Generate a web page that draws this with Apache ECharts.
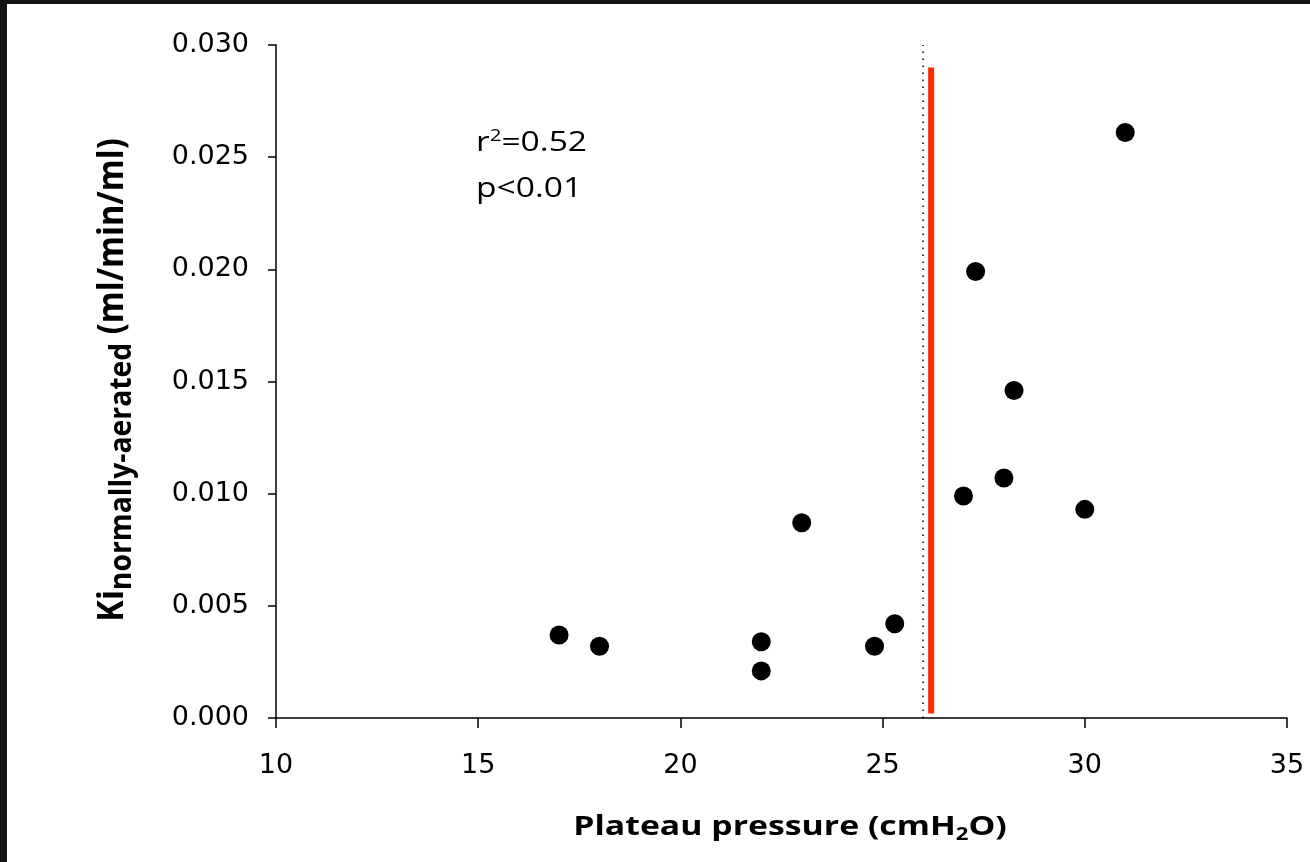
<!DOCTYPE html>
<html>
<head>
<meta charset="utf-8">
<script src="https://cdn.jsdelivr.net/npm/echarts@6/dist/echarts.min.js"></script>
<style>
  html, body { margin: 0; padding: 0; background: #ffffff; }
  #chart { width: 1310px; height: 862px; }
</style>
</head>
<body>
<div id="chart"></div>
<script>
// Plateau pressure (cmH2O) per subject
const plateauPressure = [17.0, 18.0, 22.0, 22.0, 23.0, 24.8, 25.3, 27.0, 27.3, 28.0, 28.25, 30.0, 31.0];
// Ki of the normally-aerated lung (ml/min/ml)
const kiNormallyAerated = [0.0037, 0.0032, 0.0034, 0.0021, 0.0087, 0.0032, 0.0042, 0.0099, 0.0199, 0.0107, 0.0146, 0.0093, 0.0261];

// Vertical reference lines: dotted threshold and red cut-off bar
const thresholdX = [26.0, 26.0];
const thresholdY = [0.0, 0.030];
const cutoffX = [26.2, 26.2];
const cutoffY = [0.0002, 0.029];

// Axis ranges and tick spacing
const xRange = [10, 35, 5];
const yRange = [0, 0.030, 0.005];

const statsText = ['r{sup|2}=0.52', 'p<0.01'];

const chart = echarts.init(document.getElementById('chart'), null, { renderer: 'canvas' });

const pairs = (xs, ys) => xs.map((x, i) => [x, ys[i]]);

const tickFont = 'DejaVu Sans';
const titleFont = '"Open Sans", "Noto Sans", sans-serif';

chart.setOption({
  backgroundColor: '#ffffff',
  animation: false,
  grid: { left: 276, right: 23, top: 45, bottom: 144, containLabel: false },
  xAxis: {
    type: 'value',
    min: xRange[0], max: xRange[1], interval: xRange[2],
    axisLine: { show: true, lineStyle: { color: '#000', width: 1.5 } },
    axisTick: { show: true, length: 10, lineStyle: { color: '#000', width: 1.5 } },
    splitLine: { show: false },
    axisLabel: { color: '#000', fontFamily: tickFont, fontSize: 27, margin: 34 }
  },
  yAxis: {
    type: 'value',
    min: yRange[0], max: yRange[1], interval: yRange[2],
    axisLine: { show: true, lineStyle: { color: '#000', width: 1.5 } },
    axisTick: { show: true, length: 8, lineStyle: { color: '#000', width: 1.5 } },
    splitLine: { show: false },
    axisLabel: {
      color: '#000', fontFamily: tickFont, fontSize: 27, margin: 27,
      formatter: v => v.toFixed(3)
    }
  },
  series: [
    {
      type: 'line',
      data: pairs(thresholdX, thresholdY),
      symbol: 'none',
      lineStyle: { color: '#000', width: 1.5, type: [1.5, 5.5] },
      z: 2
    },
    {
      type: 'line',
      data: pairs(cutoffX, cutoffY),
      symbol: 'none',
      lineStyle: { color: '#ff2a00', width: 6, cap: 'butt' },
      z: 3
    },
    {
      type: 'scatter',
      data: pairs(plateauPressure, kiNormallyAerated),
      symbol: 'circle',
      symbolSize: 19,
      itemStyle: { color: '#000', opacity: 1 },
      z: 4
    }
  ],
  graphic: [
    { type: 'rect', left: 0, top: 0, shape: { width: 1310, height: 4 }, style: { fill: '#141414' } },
    { type: 'rect', left: 0, top: 0, shape: { width: 7, height: 862 }, style: { fill: '#141414' } },
    {
      type: 'text', x: 476, y: 120, scaleX: 1.2, scaleY: 1,
      style: {
        text: statsText.join('\n'),
        font: '28px ' + titleFont,
        fill: '#000',
        lineHeight: 46,
        rich: { sup: { fontSize: 17, fontFamily: titleFont, padding: [0, 0, 14, 0], lineHeight: 46 } }
      }
    },
    {
      type: 'text', x: 790, y: 828, scaleX: 1.3, scaleY: 1,
      style: {
        text: 'Plateau pressure (cmH{sub|2}O)',
        font: 'bold 26px ' + titleFont,
        fill: '#000',
        align: 'center', verticalAlign: 'middle',
        rich: { sub: { fontSize: 17, fontWeight: 'bold', fontFamily: titleFont, padding: [14, 0, 0, 0] } }
      }
    },
    {
      type: 'text', x: 113, y: 380, rotation: Math.PI / 2, scaleX: 1.05, scaleY: 1.15,
      style: {
        text: 'Ki{sub|normally-aerated} (ml/min/ml)',
        font: 'bold 31px ' + titleFont,
        fill: '#000',
        align: 'center', verticalAlign: 'middle',
        rich: { sub: { fontSize: 27, fontWeight: 'bold', fontFamily: titleFont, padding: [16, 0, 0, 0] } }
      }
    }
  ]
});
</script>
</body>
</html>
